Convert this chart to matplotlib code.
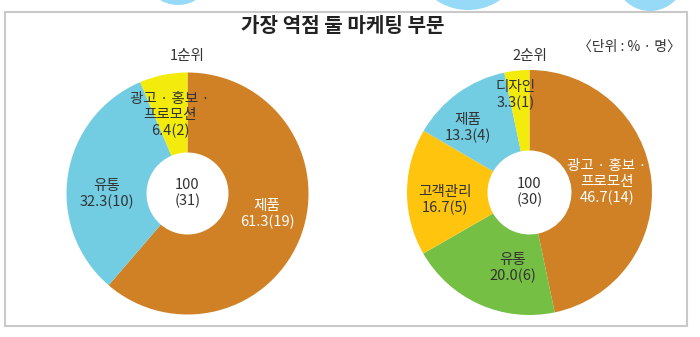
import matplotlib
matplotlib.use('Agg')
import matplotlib.pyplot as plt
from matplotlib.patches import Rectangle, Ellipse

plt.rcParams['font.family'] = ['Noto Sans CJK KR', 'DejaVu Sans']

W, H = 700, 337

# 1순위
labels1 = ['제품', '유통', '광고 · 홍보 ·\n프로모션']
pct1 = [61.3, 32.3, 6.4]
cnt1 = [19, 10, 2]
colors1 = ['#D08025', '#72CDE3', '#F2EB0B']

# 2순위
labels2 = ['광고 · 홍보 ·\n프로모션', '유통', '고객관리', '제품', '디자인']
pct2 = [46.7, 20.0, 16.7, 13.3, 3.3]
cnt2 = [14, 6, 5, 4, 1]
colors2 = ['#D08025', '#74BF44', '#FFC40D', '#72CDE3', '#F2EB0B']

fig = plt.figure(figsize=(W / 100, H / 100), dpi=100)
bg = fig.add_axes([0, 0, 1, 1])
bg.set_xlim(0, W)
bg.set_ylim(H, 0)
bg.axis('off')

# 위쪽 장식용 하늘색 원
for cx, cy, ew, eh in [(178, -22, 62, 54), (468, -45, 112, 110), (650, -30, 75, 82)]:
    bg.add_patch(Ellipse((cx, cy), ew, eh, facecolor='#96DAF7', edgecolor='none'))

bg.add_patch(Rectangle((5, 12), 682, 314, facecolor='white', edgecolor='#C9C9C9', lw=1.5))

bg.text(343, 26, '가장 역점 둘 마케팅 부문', ha='center', va='center',
        fontsize=14.5, fontweight='bold', color='#222222')
bg.text(681, 47, '〈단위 : % · 명〉', ha='right', va='center', fontsize=10, color='#333333')


def donut(cx, cy, r, hole, title, labels, pct, cnt, colors, offsets, light):
    half = 130
    ax = fig.add_axes([(cx - half) / W, 1 - (cy + half) / H, 2 * half / W, 2 * half / H])
    ax.pie(pct, colors=colors, startangle=90, counterclock=False,
           radius=r / half, wedgeprops=dict(width=(r - hole) / half, linewidth=0))
    ax.set_xlim(-1, 1)
    ax.set_ylim(-1, 1)
    ax.set_aspect('equal')
    ax.axis('off')

    # 글자는 파이 위에 그려지도록 파이 축에 붙이고 좌표만 배경 픽셀 기준으로
    tr = bg.transData
    ax.text(cx, 56, title, ha='center', va='center', fontsize=10.5,
            color='#333333', transform=tr)
    for lab, p, n, (dx, dy), lt in zip(labels, pct, cnt, offsets, light):
        ax.text(cx + dx, cy + dy, f'{lab}\n{p:.1f}({n})', ha='center', va='center',
                fontsize=10.5, linespacing=1.15, color='white' if lt else '#333333',
                transform=tr)
    ax.text(cx, cy, f'{round(sum(pct))}\n({sum(cnt)})', ha='center', va='center',
            fontsize=10.5, linespacing=1.15, color='#333333', transform=tr)


donut(187.5, 193.5, 121, 41, '1순위', labels1, pct1, cnt1, colors1,
      [(79.5, 20.5), (-80.5, 0.5), (-17.5, -78.5)], [True, False, False])
donut(529.5, 192.5, 122.5, 42, '2순위', labels2, pct2, cnt2, colors2,
      [(77.5, -10.5), (-16.5, 75.5), (-84.5, 7.5), (-61.5, -64.5), (-13.5, -97.5)],
      [True, False, False, False, False])

fig.savefig('out.png', dpi=100)
